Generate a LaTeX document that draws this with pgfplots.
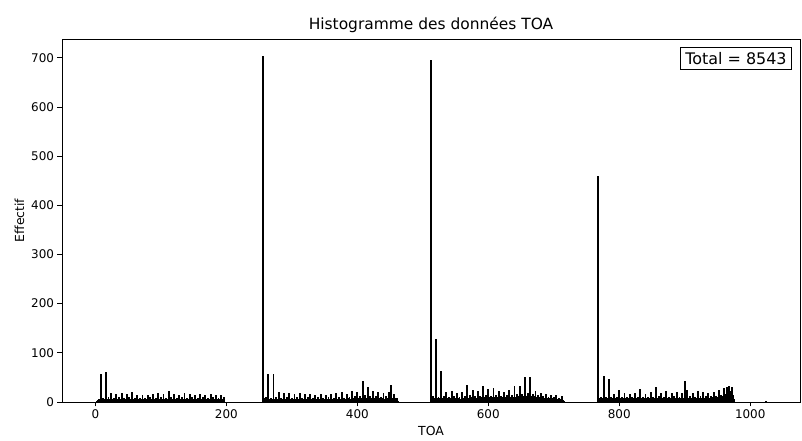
\documentclass[border=0pt]{standalone}
\usepackage{pgfplots}
\pgfplotsset{compat=1.18}
\usepackage{pgfplotstable}
\usepackage{fontspec}
\setmainfont{DejaVu Sans}

% counts per TOA bin (width 1), one table per cluster
\pgfplotstableread[row sep=\\]{x n\\
3 3\\ 4 5\\ 5 4\\ 6 6\\ 7 7\\
8 57\\ 9 6\\ 10 7\\ 11 5\\ 12 9\\ 13 6\\ 14 5\\ 15 7\\
16 62\\ 17 7\\ 18 5\\ 19 6\\ 20 10\\ 21 5\\ 22 7\\ 23 6\\
24 18\\ 25 6\\ 26 5\\ 27 7\\ 28 9\\ 29 5\\ 30 6\\ 31 7\\
32 17\\ 33 5\\ 34 7\\ 35 6\\ 36 10\\ 37 6\\ 38 5\\ 39 6\\
40 19\\ 41 6\\ 42 5\\ 43 7\\ 44 9\\ 45 7\\ 46 5\\ 47 6\\
48 16\\ 49 7\\ 50 6\\ 51 5\\ 52 10\\ 53 6\\ 54 7\\ 55 5\\
56 20\\ 57 5\\ 58 6\\ 59 7\\ 60 9\\ 61 5\\ 62 6\\ 63 7\\
64 15\\ 65 6\\ 66 5\\ 67 7\\ 68 8\\ 69 6\\ 70 5\\ 71 6\\
72 14\\ 73 7\\ 74 6\\ 75 5\\ 76 9\\ 77 6\\ 78 5\\ 79 7\\
80 15\\ 81 5\\ 82 6\\ 83 7\\ 84 10\\ 85 6\\ 86 7\\ 87 5\\
88 17\\ 89 6\\ 90 7\\ 91 5\\ 92 9\\ 93 5\\ 94 6\\ 95 6\\
96 18\\ 97 6\\ 98 5\\ 99 7\\ 100 10\\ 101 6\\ 102 5\\ 103 7\\
104 16\\ 105 7\\ 106 6\\ 107 5\\ 108 9\\ 109 7\\ 110 6\\ 111 5\\
112 22\\ 113 5\\ 114 6\\ 115 7\\ 116 10\\ 117 6\\ 118 5\\ 119 6\\
120 17\\ 121 6\\ 122 7\\ 123 5\\ 124 9\\ 125 5\\ 126 7\\ 127 6\\
128 15\\ 129 7\\ 130 5\\ 131 6\\ 132 10\\ 133 6\\ 134 5\\ 135 7\\
136 19\\ 137 5\\ 138 6\\ 139 7\\ 140 9\\ 141 7\\ 142 6\\ 143 5\\
144 16\\ 145 6\\ 146 7\\ 147 5\\ 148 10\\ 149 5\\ 150 6\\ 151 7\\
152 14\\ 153 7\\ 154 5\\ 155 6\\ 156 9\\ 157 6\\ 158 7\\ 159 5\\
160 17\\ 161 6\\ 162 5\\ 163 7\\ 164 10\\ 165 6\\ 166 5\\ 167 6\\
168 15\\ 169 5\\ 170 7\\ 171 6\\ 172 9\\ 173 7\\ 174 6\\ 175 5\\
176 16\\ 177 6\\ 178 5\\ 179 7\\ 180 10\\ 181 5\\ 182 7\\ 183 6\\
184 14\\ 185 7\\ 186 6\\ 187 5\\ 188 9\\ 189 6\\ 190 5\\ 191 7\\
192 15\\ 193 6\\ 194 7\\ 195 5\\ 196 10\\ 197 6\\
}\clA

\pgfplotstableread[row sep=\\]{x n\\
256 703\\ 257 7\\ 258 6\\ 259 8\\ 260 10\\ 261 6\\ 262 7\\ 263 5\\
264 57\\ 265 6\\ 266 7\\ 267 5\\ 268 9\\ 269 6\\ 270 5\\ 271 7\\
272 57\\ 273 7\\ 274 5\\ 275 6\\ 276 10\\ 277 6\\ 278 7\\ 279 5\\
280 20\\ 281 6\\ 282 7\\ 283 5\\ 284 9\\ 285 5\\ 286 6\\ 287 7\\
288 18\\ 289 7\\ 290 5\\ 291 6\\ 292 10\\ 293 6\\ 294 5\\ 295 7\\
296 19\\ 297 5\\ 298 6\\ 299 7\\ 300 9\\ 301 7\\ 302 6\\ 303 5\\
304 17\\ 305 6\\ 306 5\\ 307 7\\ 308 10\\ 309 5\\ 310 7\\ 311 6\\
312 18\\ 313 7\\ 314 6\\ 315 5\\ 316 9\\ 317 6\\ 318 5\\ 319 7\\
320 16\\ 321 6\\ 322 7\\ 323 5\\ 324 10\\ 325 6\\ 326 7\\ 327 5\\
328 17\\ 329 5\\ 330 6\\ 331 7\\ 332 9\\ 333 5\\ 334 6\\ 335 7\\
336 15\\ 337 7\\ 338 5\\ 339 6\\ 340 10\\ 341 7\\ 342 5\\ 343 6\\
344 16\\ 345 6\\ 346 7\\ 347 5\\ 348 9\\ 349 6\\ 350 5\\ 351 7\\
352 14\\ 353 5\\ 354 6\\ 355 7\\ 356 10\\ 357 5\\ 358 7\\ 359 6\\
360 17\\ 361 6\\ 362 5\\ 363 7\\ 364 9\\ 365 6\\ 366 5\\ 367 7\\
368 18\\ 369 7\\ 370 6\\ 371 5\\ 372 10\\ 373 7\\ 374 6\\ 375 5\\
376 20\\ 377 6\\ 378 7\\ 379 5\\ 380 9\\ 381 5\\ 382 6\\ 383 7\\
384 17\\ 385 7\\ 386 5\\ 387 8\\ 388 11\\ 389 6\\ 390 7\\ 391 6\\
392 22\\ 393 6\\ 394 8\\ 395 7\\ 396 12\\ 397 8\\ 398 7\\ 399 6\\
400 20\\ 401 8\\ 402 7\\ 403 9\\ 404 13\\ 405 7\\ 406 8\\ 407 9\\
408 43\\ 409 9\\ 410 8\\ 411 7\\ 412 14\\ 413 8\\ 414 9\\ 415 7\\
416 30\\ 417 8\\ 418 7\\ 419 9\\ 420 12\\ 421 7\\ 422 8\\ 423 6\\
424 22\\ 425 7\\ 426 8\\ 427 6\\ 428 12\\ 429 8\\ 430 7\\ 431 9\\
432 20\\ 433 8\\ 434 9\\ 435 7\\ 436 11\\ 437 7\\ 438 8\\ 439 6\\
440 18\\ 441 7\\ 442 6\\ 443 8\\ 444 12\\ 445 9\\ 446 7\\ 447 8\\
448 20\\ 449 9\\ 450 8\\ 451 7\\ 452 35\\ 453 8\\ 454 9\\ 455 7\\
456 16\\ 457 8\\ 458 6\\ 459 7\\ 460 9\\ 461 5\\ 462 3\\
}\clB

\pgfplotstableread[row sep=\\]{x n\\
512 695\\ 513 8\\ 514 7\\ 515 9\\ 516 12\\ 517 8\\ 518 7\\ 519 9\\
520 128\\ 521 9\\ 522 8\\ 523 7\\ 524 11\\ 525 8\\ 526 9\\ 527 7\\
528 63\\ 529 8\\ 530 7\\ 531 9\\ 532 12\\ 533 7\\ 534 8\\ 535 6\\
536 20\\ 537 7\\ 538 8\\ 539 6\\ 540 11\\ 541 8\\ 542 7\\ 543 9\\
544 22\\ 545 8\\ 546 6\\ 547 7\\ 548 12\\ 549 9\\ 550 8\\ 551 7\\
552 18\\ 553 7\\ 554 9\\ 555 8\\ 556 11\\ 557 7\\ 558 6\\ 559 8\\
560 20\\ 561 9\\ 562 7\\ 563 8\\ 564 13\\ 565 8\\ 566 9\\ 567 7\\
568 35\\ 569 8\\ 570 9\\ 571 7\\ 572 14\\ 573 9\\ 574 8\\ 575 10\\
576 24\\ 577 9\\ 578 8\\ 579 10\\ 580 13\\ 581 8\\ 582 9\\ 583 7\\
584 22\\ 585 8\\ 586 10\\ 587 9\\ 588 12\\ 589 9\\ 590 8\\ 591 10\\
592 32\\ 593 9\\ 594 8\\ 595 10\\ 596 14\\ 597 8\\ 598 9\\ 599 8\\
600 26\\ 601 10\\ 602 9\\ 603 8\\ 604 13\\ 605 9\\ 606 10\\ 607 8\\
608 28\\ 609 9\\ 610 10\\ 611 8\\ 612 14\\ 613 10\\ 614 9\\ 615 8\\
616 22\\ 617 8\\ 618 9\\ 619 10\\ 620 13\\ 621 9\\ 622 8\\ 623 10\\
624 20\\ 625 10\\ 626 8\\ 627 9\\ 628 14\\ 629 8\\ 630 10\\ 631 9\\
632 25\\ 633 9\\ 634 10\\ 635 8\\ 636 15\\ 637 10\\ 638 9\\ 639 11\\
640 32\\ 641 11\\ 642 10\\ 643 12\\ 644 16\\ 645 10\\ 646 11\\ 647 12\\
648 33\\ 649 12\\ 650 11\\ 651 10\\ 652 17\\ 653 11\\ 654 12\\ 655 10\\
656 50\\ 657 11\\ 658 12\\ 659 13\\ 660 18\\ 661 12\\ 662 11\\ 663 13\\
664 50\\ 665 12\\ 666 13\\ 667 11\\ 668 17\\ 669 12\\ 670 13\\ 671 11\\
672 22\\ 673 10\\ 674 9\\ 675 11\\ 676 14\\ 677 9\\ 678 10\\ 679 8\\
680 18\\ 681 9\\ 682 8\\ 683 7\\ 684 12\\ 685 8\\ 686 7\\ 687 8\\
688 16\\ 689 7\\ 690 8\\ 691 6\\ 692 11\\ 693 7\\ 694 8\\ 695 6\\
696 15\\ 697 6\\ 698 7\\ 699 8\\ 700 10\\ 701 6\\ 702 7\\ 703 5\\
704 14\\ 705 7\\ 706 5\\ 707 6\\ 708 9\\ 709 5\\ 710 6\\ 711 5\\
712 12\\ 713 5\\ 714 4\\ 715 3\\
}\clC

\pgfplotstableread[row sep=\\]{x n\\
768 460\\ 769 8\\ 770 7\\ 771 9\\ 772 11\\ 773 7\\ 774 8\\ 775 6\\
776 52\\ 777 7\\ 778 8\\ 779 6\\ 780 10\\ 781 8\\ 782 7\\ 783 9\\
784 47\\ 785 8\\ 786 6\\ 787 7\\ 788 11\\ 789 9\\ 790 8\\ 791 7\\
792 16\\ 793 7\\ 794 8\\ 795 9\\ 796 10\\ 797 7\\ 798 6\\ 799 8\\
800 24\\ 801 6\\ 802 7\\ 803 8\\ 804 11\\ 805 7\\ 806 8\\ 807 6\\
808 18\\ 809 8\\ 810 7\\ 811 6\\ 812 10\\ 813 8\\ 814 7\\ 815 9\\
816 17\\ 817 7\\ 818 9\\ 819 8\\ 820 11\\ 821 7\\ 822 6\\ 823 8\\
824 19\\ 825 8\\ 826 7\\ 827 9\\ 828 10\\ 829 6\\ 830 8\\ 831 7\\
832 27\\ 833 7\\ 834 8\\ 835 6\\ 836 11\\ 837 8\\ 838 7\\ 839 9\\
840 16\\ 841 8\\ 842 6\\ 843 7\\ 844 10\\ 845 7\\ 846 8\\ 847 6\\
848 20\\ 849 7\\ 850 8\\ 851 9\\ 852 11\\ 853 8\\ 854 7\\ 855 8\\
856 30\\ 857 8\\ 858 7\\ 859 6\\ 860 12\\ 861 7\\ 862 9\\ 863 7\\
864 18\\ 865 9\\ 866 8\\ 867 7\\ 868 11\\ 869 8\\ 870 7\\ 871 9\\
872 22\\ 873 7\\ 874 9\\ 875 8\\ 876 10\\ 877 9\\ 878 8\\ 879 7\\
880 19\\ 881 8\\ 882 7\\ 883 9\\ 884 12\\ 885 7\\ 886 8\\ 887 6\\
888 21\\ 889 7\\ 890 8\\ 891 6\\ 892 11\\ 893 8\\ 894 9\\ 895 7\\
896 18\\ 897 8\\ 898 7\\ 899 9\\ 900 42\\ 901 9\\ 902 8\\ 903 7\\
904 25\\ 905 8\\ 906 9\\ 907 7\\ 908 12\\ 909 8\\ 910 7\\ 911 9\\
912 19\\ 913 9\\ 914 8\\ 915 10\\ 916 11\\ 917 7\\ 918 9\\ 919 8\\
920 22\\ 921 8\\ 922 7\\ 923 9\\ 924 12\\ 925 8\\ 926 9\\ 927 7\\
928 20\\ 929 9\\ 930 8\\ 931 7\\ 932 13\\ 933 9\\ 934 8\\ 935 10\\
936 18\\ 937 8\\ 938 9\\ 939 7\\ 940 12\\ 941 8\\ 942 10\\ 943 9\\
944 21\\ 945 9\\ 946 10\\ 947 8\\ 948 13\\ 949 10\\ 950 9\\ 951 11\\
952 24\\ 953 11\\ 954 12\\ 955 10\\ 956 15\\ 957 12\\ 958 13\\ 959 12\\
960 28\\ 961 14\\ 962 15\\ 963 16\\ 964 30\\ 965 18\\ 966 17\\ 967 19\\
968 33\\ 969 20\\ 970 18\\ 971 22\\ 972 30\\ 973 15\\ 974 10\\ 975 6\\
1024 3\\
}\clD

\begin{document}
\begin{tikzpicture}
\begin{axis}[
  scale only axis,
  width=738bp, height=363bp,
  xmin=-51, xmax=1076, ymin=0, ymax=738,
  xtick={0,200,400,600,800,1000},
  ytick={0,100,200,300,400,500,600,700},
  tick pos=left, tick align=outside,
  major tick length=4.5bp,
  axis line style={line width=0.7bp},
  tick style={line width=0.7bp, black},
  /pgf/number format/assume math mode=true,
  /pgf/number format/1000 sep={},
  tick label style={font=\fontsize{12}{14}\selectfont},
  label style={font=\fontsize{12.5}{14}\selectfont},
  xlabel={TOA}, ylabel={Effectif},
  title={Histogramme des données TOA},
  title style={font=\fontsize{15.5}{17}\selectfont, yshift=-3bp},
  clip=true,
]
\addplot[ycomb, black, line width=1.9bp, no marks] table[x=x, y=n] {\clA};
\addplot[ycomb, black, line width=1.9bp, no marks] table[x=x, y=n] {\clB};
\addplot[ycomb, black, line width=1.9bp, no marks] table[x=x, y=n] {\clC};
\addplot[ycomb, black, line width=1.9bp, no marks] table[x=x, y=n] {\clD};
\node[draw=black, line width=0.8bp, fill=white, anchor=north east,
  inner xsep=5bp, inner ysep=5bp, font=\fontsize{16}{18}\selectfont]
  at ([xshift=-8bp, yshift=-8bp]rel axis cs:1,1) {Total = 8543};
\coordinate (sw) at (rel axis cs:0,0);
\coordinate (ne) at (rel axis cs:1,1);
\end{axis}
\pgfresetboundingbox
\path ([shift={(-62bp,-39bp)}]sw) rectangle ([shift={(2bp,39bp)}]ne);
\end{tikzpicture}
\end{document}
